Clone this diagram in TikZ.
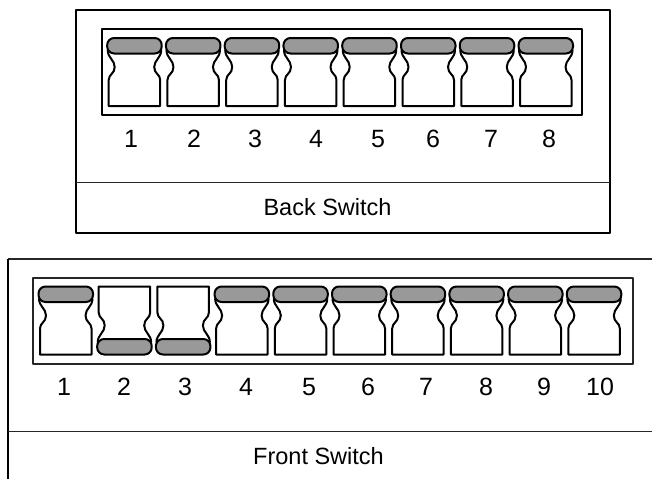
\documentclass[tikz,border=0pt]{standalone}
\usepackage{fontspec}
\setmainfont{Liberation Sans}
\tikzset{
  edge/.style={line width=2pt,line join=round},
  thinedge/.style={line width=1.6pt,line join=round,black!85},
  knob/.style={edge,fill=black!40,rounded corners=7pt},
  num/.style={font=\fontsize{25}{25}\selectfont,inner sep=0pt,anchor=base},
  title/.style={font=\fontsize{23.5}{23.5}\selectfont,inner sep=0pt,anchor=base},
  pics/dipup/.style={code={
    \draw[edge]
      (-1,12) .. controls (-1,20) and (6,22) .. (6,29)
      .. controls (6,36) and (0,36) .. (0,42) -- (0,68) -- (51.5,68) -- (51.5,42)
      .. controls (51.5,36) and (45.5,36) .. (45.5,29)
      .. controls (45.5,22) and (52.5,20) .. (52.5,12);
    \draw[knob] (-1.5,0) rectangle (53,15.5);
  }}
}
\begin{document}
\begin{tikzpicture}[x=1pt,y=-1pt]
  \useasboundingbox (0,0) rectangle (652,479);
  % back switch
  \draw[edge] (76,9.5) rectangle (609.5,232.5);
  \draw[thinedge] (76,182.5) -- (609.5,182.5);
  \draw[edge] (102,29) rectangle (581.5,115);
  \foreach \i in {0,...,7}
    \pic at ({108.7+58.76*\i},38) {dipup};
  \foreach \i/\xpos in {1/131,2/194,3/255,4/316,5/378,6/433,7/491,8/549}
    \node[num] (back\i) at (\xpos,147) {\i};
  \node[title] (backname) at (327.5,215) {Back Switch};
  % front switch
  \draw[thinedge] (652,259) -- (7.5,259);
  \draw[edge] (7.5,259) -- (7.5,479);
  \draw[thinedge] (7.5,431.5) -- (652,431.5);
  \draw[thinedge] (33,277.7) rectangle (632.7,363.7);
  \foreach \i in {0,3,4,5,6,7,8,9}
    \pic at ({40+58.7*\i},286.5) {dipup};
  \foreach \i in {1,2}
    \pic[yscale=-1] at ({40+58.7*\i},354.5) {dipup};
  \foreach \i/\xpos in {1/64,2/124,3/185,4/246,5/309,6/368,7/426,8/486,9/544,10/600}
    \node[num] (front\i) at (\xpos,395.5) {\i};
  \node[title] (frontname) at (318.5,464) {Front Switch};
\end{tikzpicture}
\end{document}
